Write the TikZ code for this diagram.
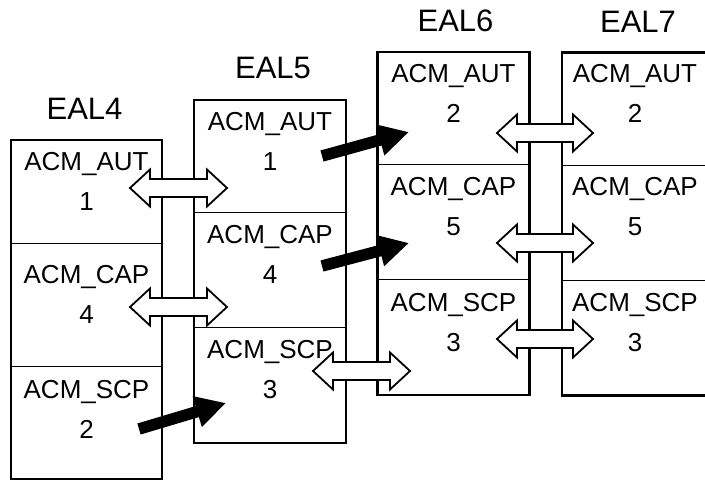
\documentclass[tikz,border=0pt]{standalone}
\usepackage{fontspec}
\setmainfont{Liberation Sans}
\usetikzlibrary{positioning,arrows.meta,calc}

% hollow two-headed block arrow between two points on one row
\newcommand{\twoway}[2]{%
  \draw[hollow] (#1) -- ++(20,-18.5) -- ++(0,9.5) -- ($(#2)+(-20,-9)$)
    -- ++(0,-9.5) -- (#2) -- ++(-20,18.5) -- ++(0,-9.5)
    -- ($(#1)+(20,9)$) -- ++(0,9.5) -- cycle;}

\begin{document}
\begin{tikzpicture}[x=1pt, y=-1pt,
 ealbox/.style={draw,line width=2.2pt,minimum width=152pt,minimum height=343pt,inner sep=0},
 title/.style={inner sep=0,font=\fontsize{31}{37}\selectfont},
 comp/.style={anchor=north,inner sep=0,align=center,font=\fontsize{26}{40}\selectfont},
 divider/.style={line width=1pt},
 hollow/.style={draw,fill=white,line width=1.8pt,line join=miter},
 push/.style={line width=11.5pt,-{Triangle[length=30pt,width=30pt]}}]
\useasboundingbox (0,0) rectangle (705,482);
% the four levels
\node[ealbox,minimum width=151pt,minimum height=339pt] (b4) at (86.5,309.5) {};
\node[ealbox] (b5) at (270,271.5) {};
\node[ealbox] (b6) at (453.5,223.5) {};
\node[ealbox,minimum width=146pt] (b7) at (635,224) {};
\node[title,above=19pt of b4,xshift=-2pt] (t4) {EAL4};
\node[title,above=20pt of b5,xshift=3pt] (t5) {EAL5};
\node[title,above=19pt of b6,xshift=2pt] (t6) {EAL6};
\node[title,above=19pt of b7,xshift=3pt] (t7) {EAL7};
% dividers
\draw[divider] ([yshift=-105pt]b4.north west) -- ([yshift=-105pt]b4.north east);
\draw[divider] ([yshift=-228pt]b4.north west) -- ([yshift=-228pt]b4.north east);
\foreach \b in {b5,b6,b7} {
  \draw[divider] ([yshift=-114pt]\b.north west) -- ([yshift=-114pt]\b.north east);
  \draw[divider] ([yshift=-229pt]\b.north west) -- ([yshift=-229pt]\b.north east);
}
% components
\node[comp] (aut4) at ([yshift=-13pt]b4.north) {ACM\_AUT\\1};
\node[comp] (cap4) at ([yshift=-126pt]b4.north) {ACM\_CAP\\4};
\node[comp] (scp4) at ([yshift=-241pt]b4.north) {ACM\_SCP\\2};
\node[comp] (aut5) at ([yshift=-13pt]b5.north) {ACM\_AUT\\1};
\node[comp] (cap5) at ([yshift=-126pt]b5.north) {ACM\_CAP\\4};
\node[comp] (scp5) at ([yshift=-241pt]b5.north) {ACM\_SCP\\3};
\node[comp] (aut6) at ([yshift=-13pt]b6.north) {ACM\_AUT\\2};
\node[comp] (cap6) at ([yshift=-126pt]b6.north) {ACM\_CAP\\5};
\node[comp] (scp6) at ([yshift=-242pt]b6.north) {ACM\_SCP\\3};
\node[comp] (aut7) at ([yshift=-13pt]b7.north) {ACM\_AUT\\2};
\node[comp] (cap7) at ([yshift=-126pt]b7.north) {ACM\_CAP\\5};
\node[comp] (scp7) at ([yshift=-242pt]b7.north) {ACM\_SCP\\3};
% arrow ends
\coordinate (e1a) at (130,188); \coordinate (e1b) at (227,188);
\coordinate (e2a) at (130,307); \coordinate (e2b) at (227,307);
\coordinate (e3a) at (313,371); \coordinate (e3b) at (410,371);
\coordinate (e4a) at (497,133); \coordinate (e4b) at (593,133);
\coordinate (e5a) at (497,243); \coordinate (e5b) at (593,243);
\coordinate (e6a) at (497,339); \coordinate (e6b) at (593,339);
\coordinate (p1a) at (139,429); \coordinate (p1b) at (226,403);
\coordinate (p2a) at (322,156); \coordinate (p2b) at (409,132);
\coordinate (p3a) at (322,266); \coordinate (p3b) at (409,243);
\twoway{e1a}{e1b}
\twoway{e2a}{e2b}
\twoway{e3a}{e3b}
\twoway{e4a}{e4b}
\twoway{e5a}{e5b}
\twoway{e6a}{e6b}
\draw[push] (p1a) -- (p1b);
\draw[push] (p2a) -- (p2b);
\draw[push] (p3a) -- (p3b);
\end{tikzpicture}
\end{document}
